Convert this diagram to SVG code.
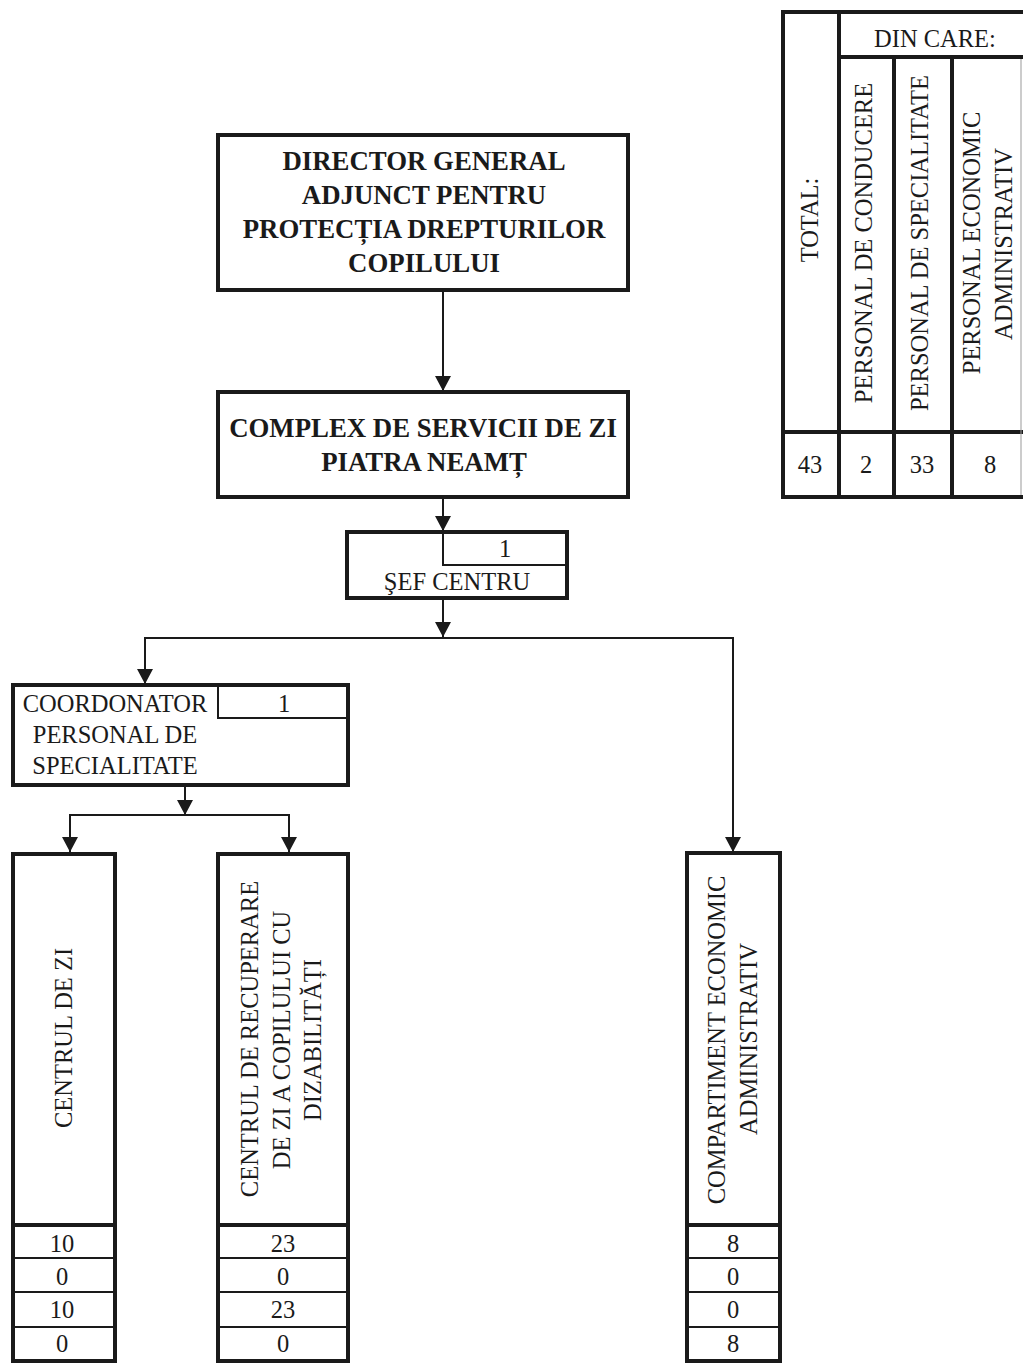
<svg xmlns="http://www.w3.org/2000/svg" width="1023" height="1363" viewBox="0 0 1023 1363">
<style>
  .box { fill: #fff; stroke: #1a1a1a; stroke-width: 4; }
  .cell { fill: none; stroke: #1a1a1a; stroke-width: 2; }
  .thick { fill: none; stroke: #1a1a1a; stroke-width: 4; }
  .conn { fill: none; stroke: #1a1a1a; stroke-width: 2; }
  .t { font-family: "Liberation Serif", "Times New Roman", serif; font-size: 24.5px; fill: #1a1a1a; text-anchor: middle; }
  .b { font-family: "Liberation Serif", "Times New Roman", serif; font-size: 26.8px; font-weight: bold; fill: #1a1a1a; text-anchor: middle; }
</style>
<defs>
  <marker id="arr" markerUnits="userSpaceOnUse" markerWidth="16" markerHeight="16" viewBox="0 0 16 16" refX="15" refY="8" orient="auto">
    <path d="M0,0 L15,8 L0,16 Z" fill="#1a1a1a"/>
  </marker>
</defs>
<rect width="1023" height="1363" fill="#fff"/>

<!-- Summary table top right -->
<g id="summary-table">
  <rect x="783" y="12" width="262" height="485" class="box"/>
  <line x1="839" y1="12" x2="839" y2="497" class="thick"/>
  <line x1="839" y1="57" x2="1023" y2="57" class="thick"/>
  <line x1="894" y1="57" x2="894" y2="497" class="thick"/>
  <line x1="952" y1="57" x2="952" y2="497" class="thick"/>
  <line x1="783" y1="432" x2="1023" y2="432" class="thick"/>
  <line x1="1021" y1="59" x2="1021" y2="495" stroke="#999" stroke-width="1"/>
  <text class="t" x="935" y="47">DIN CARE:</text>
  <text class="t" transform="translate(818,220) rotate(-90)">TOTAL:</text>
  <text class="t" transform="translate(872,243) rotate(-90)">PERSONAL DE CONDUCERE</text>
  <text class="t" transform="translate(928,243) rotate(-90)">PERSONAL DE SPECIALITATE</text>
  <text class="t" transform="translate(980,243) rotate(-90)">PERSONAL ECONOMIC</text>
  <text class="t" transform="translate(1012,244) rotate(-90)">ADMINISTRATIV</text>
  <text class="t" x="810" y="473">43</text>
  <text class="t" x="866" y="473">2</text>
  <text class="t" x="922" y="473">33</text>
  <text class="t" x="990" y="473">8</text>
</g>

<!-- Connectors -->
<g id="connectors">
  <path class="conn" d="M443,290 V391" marker-end="url(#arr)"/>
  <path class="conn" d="M443,497 V531" marker-end="url(#arr)"/>
  <path class="conn" d="M443,598 V637" marker-end="url(#arr)"/>
  <path class="conn" d="M443,638 H145 V684" marker-end="url(#arr)"/>
  <path class="conn" d="M443,638 H733 V852" marker-end="url(#arr)"/>
  <path class="conn" d="M185,785 V815" marker-end="url(#arr)"/>
  <path class="conn" d="M185,815 H70 V852" marker-end="url(#arr)"/>
  <path class="conn" d="M185,815 H289 V852" marker-end="url(#arr)"/>
</g>

<g id="director">
  <rect x="218" y="135" width="410" height="155" class="box"/>
  <text class="b" x="424" y="170">DIRECTOR GENERAL</text>
  <text class="b" x="424" y="204">ADJUNCT PENTRU</text>
  <text class="b" x="424" y="238">PROTECȚIA DREPTURILOR</text>
  <text class="b" x="424" y="272">COPILULUI</text>
</g>

<g id="complex">
  <rect x="218" y="392" width="410" height="105" class="box"/>
  <text class="b" x="423" y="437">COMPLEX DE SERVICII DE ZI</text>
  <text class="b" x="424" y="471">PIATRA NEAMȚ</text>
</g>

<g id="sef-centru">
  <rect x="347" y="532" width="220" height="66" class="box"/>
  <path class="cell" d="M443,532 V565 H567"/>
  <text class="t" x="505" y="557">1</text>
  <text class="t" x="457" y="590">ŞEF CENTRU</text>
</g>

<g id="coordonator">
  <rect x="13" y="685" width="335" height="100" class="box"/>
  <path class="cell" d="M218,685 V718 H348"/>
  <text class="t" x="284" y="712">1</text>
  <text class="t" x="115" y="712">COORDONATOR</text>
  <text class="t" x="115" y="743">PERSONAL DE</text>
  <text class="t" x="115" y="774">SPECIALITATE</text>
</g>

<g id="centrul-de-zi">
  <rect x="13" y="854" width="102" height="507" class="box"/>
  <line x1="13" y1="1225" x2="115" y2="1225" class="thick"/>
  <line x1="13" y1="1258" x2="115" y2="1258" class="cell"/>
  <line x1="13" y1="1292" x2="115" y2="1292" class="cell"/>
  <line x1="13" y1="1327" x2="115" y2="1327" class="cell"/>
  <text class="t" transform="translate(72,1038) rotate(-90)">CENTRUL DE ZI</text>
  <text class="t" x="62" y="1252">10</text>
  <text class="t" x="62" y="1285">0</text>
  <text class="t" x="62" y="1318">10</text>
  <text class="t" x="62" y="1352">0</text>
</g>

<g id="centrul-recuperare">
  <rect x="218" y="854" width="130" height="507" class="box"/>
  <line x1="218" y1="1225" x2="348" y2="1225" class="thick"/>
  <line x1="218" y1="1258" x2="348" y2="1258" class="cell"/>
  <line x1="218" y1="1292" x2="348" y2="1292" class="cell"/>
  <line x1="218" y1="1327" x2="348" y2="1327" class="cell"/>
  <text class="t" transform="translate(258,1039) rotate(-90)">CENTRUL DE RECUPERARE</text>
  <text class="t" transform="translate(290,1040) rotate(-90)">DE ZI A COPILULUI CU</text>
  <text class="t" transform="translate(321,1040) rotate(-90)">DIZABILITĂȚI</text>
  <text class="t" x="283" y="1252">23</text>
  <text class="t" x="283" y="1285">0</text>
  <text class="t" x="283" y="1318">23</text>
  <text class="t" x="283" y="1352">0</text>
</g>

<g id="compartiment">
  <rect x="687" y="853" width="93" height="508" class="box"/>
  <line x1="687" y1="1225" x2="780" y2="1225" class="thick"/>
  <line x1="687" y1="1258" x2="780" y2="1258" class="cell"/>
  <line x1="687" y1="1292" x2="780" y2="1292" class="cell"/>
  <line x1="687" y1="1327" x2="780" y2="1327" class="cell"/>
  <text class="t" transform="translate(725,1040) rotate(-90)">COMPARTIMENT ECONOMIC</text>
  <text class="t" transform="translate(757,1039) rotate(-90)">ADMINISTRATIV</text>
  <text class="t" x="733" y="1252">8</text>
  <text class="t" x="733" y="1285">0</text>
  <text class="t" x="733" y="1318">0</text>
  <text class="t" x="733" y="1352">8</text>
</g>
</svg>
